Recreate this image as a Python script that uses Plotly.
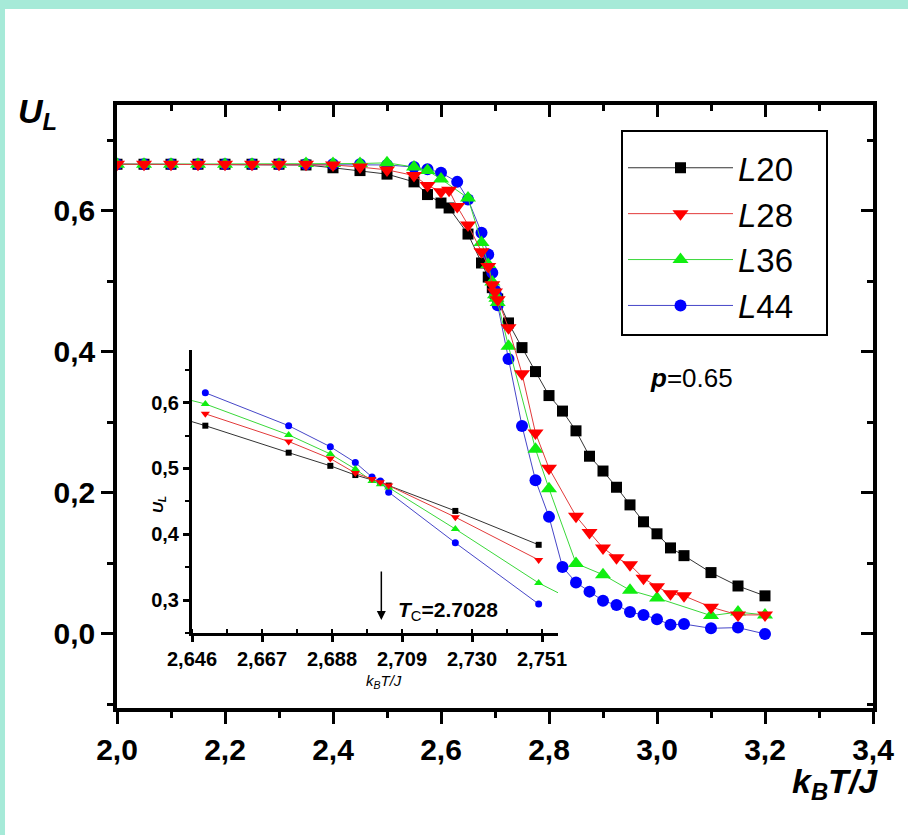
import plotly.graph_objects as go

# ---------------- main panel data (U_L vs k_B T/J) ----------------
T_L20 = [2.0, 2.05, 2.1, 2.15, 2.2, 2.25, 2.3, 2.35, 2.4, 2.45, 2.5,
         2.55, 2.575, 2.6, 2.615, 2.65, 2.675, 2.6875, 2.695, 2.70, 2.705, 2.725, 2.75, 2.775,
         2.8, 2.825, 2.85, 2.875, 2.9, 2.925, 2.95, 2.975, 3.0, 3.025, 3.05, 3.1, 3.15, 3.2]
U_L20 = [0.666, 0.666, 0.666, 0.666, 0.666, 0.666, 0.666, 0.665, 0.661, 0.657, 0.652,
         0.641, 0.623, 0.611, 0.604, 0.567, 0.526, 0.506, 0.491, 0.483, 0.475, 0.441, 0.406, 0.372,
         0.338, 0.316, 0.288, 0.252, 0.231, 0.208, 0.183, 0.159, 0.142, 0.122, 0.111, 0.087, 0.068, 0.054]

T_L28 = [2.0, 2.05, 2.1, 2.15, 2.2, 2.25, 2.3, 2.35, 2.4, 2.45, 2.5,
         2.55, 2.575, 2.6, 2.615, 2.63, 2.65, 2.675, 2.6875, 2.695, 2.70, 2.705, 2.725, 2.75, 2.775,
         2.8, 2.85, 2.875, 2.9, 2.925, 2.95, 2.975, 3.0, 3.025, 3.05, 3.1, 3.15, 3.2]
U_L28 = [0.666, 0.666, 0.666, 0.666, 0.666, 0.666, 0.666, 0.666, 0.665, 0.662, 0.658,
         0.650, 0.636, 0.627, 0.629, 0.606, 0.580, 0.542, 0.521, 0.495, 0.485, 0.474, 0.434, 0.369, 0.285,
         0.235, 0.167, 0.144, 0.122, 0.108, 0.098, 0.079, 0.067, 0.057, 0.054, 0.038, 0.027, 0.027]

T_L36 = [2.0, 2.05, 2.1, 2.15, 2.2, 2.25, 2.3, 2.35, 2.4, 2.45, 2.5,
         2.55, 2.575, 2.6, 2.65, 2.675, 2.6875, 2.695, 2.70, 2.7025, 2.705, 2.725, 2.775,
         2.8, 2.85, 2.9, 2.95, 3.0, 3.1, 3.15, 3.2]
U_L36 = [0.666, 0.666, 0.666, 0.666, 0.666, 0.666, 0.666, 0.667, 0.667, 0.667, 0.668,
         0.662, 0.657, 0.645, 0.618, 0.555, 0.524, 0.499, 0.481, 0.476, 0.470, 0.408, 0.262,
         0.206, 0.100, 0.084, 0.062, 0.051, 0.026, 0.031, 0.027]

T_L44 = [2.0, 2.05, 2.1, 2.15, 2.2, 2.25, 2.3, 2.35, 2.4, 2.45, 2.5,
         2.55, 2.575, 2.6, 2.63, 2.65, 2.675, 2.6875, 2.695, 2.70, 2.7025, 2.705, 2.725, 2.75, 2.775,
         2.8, 2.825, 2.85, 2.875, 2.9, 2.925, 2.95, 2.975, 3.0, 3.025, 3.05, 3.1, 3.15, 3.2]
U_L44 = [0.666, 0.666, 0.666, 0.666, 0.666, 0.666, 0.666, 0.666, 0.666, 0.666, 0.665,
         0.662, 0.659, 0.654, 0.641, 0.616, 0.569, 0.538, 0.512, 0.487, 0.480, 0.466, 0.390, 0.295, 0.218,
         0.166, 0.095, 0.073, 0.060, 0.047, 0.041, 0.031, 0.027, 0.021, 0.013, 0.014, 0.008, 0.009, 0.000]

# ---------------- inset data (zoom near the crossing) ----------------
IN_T20 = [2.625, 2.65, 2.675, 2.6875, 2.695, 2.70, 2.7025, 2.705, 2.725, 2.75]
IN_U20 = [0.603, 0.565, 0.524, 0.504, 0.490, 0.483, 0.479, 0.474, 0.4355, 0.384]
IN_T28 = [2.65, 2.675, 2.6875, 2.695, 2.70, 2.7025, 2.705, 2.725, 2.75]
IN_U28 = [0.583, 0.541, 0.515, 0.493, 0.484, 0.479, 0.474, 0.426, 0.361]
IN_T36 = [2.625, 2.65, 2.675, 2.6875, 2.695, 2.70, 2.7025, 2.705, 2.725, 2.75, 2.775]
IN_U36 = [0.630, 0.598, 0.551, 0.522, 0.499, 0.481, 0.476, 0.471, 0.408, 0.326, 0.262]
IN_T44 = [2.65, 2.675, 2.6875, 2.695, 2.70, 2.7025, 2.705, 2.725, 2.75]
IN_U44 = [0.615, 0.565, 0.533, 0.509, 0.487, 0.481, 0.464, 0.387, 0.294]

SERIES_NAMES = ["L20", "L28", "L36", "L44"]

MAIN_XTICKS = [2.0, 2.2, 2.4, 2.6, 2.8, 3.0, 3.2, 3.4]
MAIN_YTICKS = [0.0, 0.2, 0.4, 0.6]
INSET_XTICKS = [2.646, 2.667, 2.688, 2.709, 2.730, 2.751]
INSET_YTICKS = [0.3, 0.4, 0.5, 0.6]
TC_VALUE = 2.7028
P_VALUE = 0.65

# ---------------- styling ----------------
FONT = "Liberation Sans, Arial, sans-serif"
W, H = 908, 835
L, R, T, B = 117, 35, 105, 127
PW, PH = W - L - R, H - T - B
X_RANGE = [2.0, 3.4]
Y_RANGE = [-0.105, 0.75]


def px_x(p):
    return (p - L) / PW


def px_y(p):
    return (H - B - p) / PH


styles = {
    "L20": dict(sym="square", col="#000000", line="#333333", ms=11, ims=6),
    "L28": dict(sym="triangle-down", col="#ff0000", line="#e23a3a", ms=14, ims=8),
    "L36": dict(sym="triangle-up", col="#11ee11", line="#3ad83a", ms=14, ims=8),
    "L44": dict(sym="circle", col="#0000ff", line="#4646c8", ms=12, ims=7),
}
main_data = {"L20": (T_L20, U_L20), "L28": (T_L28, U_L28),
             "L36": (T_L36, U_L36), "L44": (T_L44, U_L44)}
inset_data = {"L20": (IN_T20, IN_U20), "L28": (IN_T28, IN_U28),
              "L36": (IN_T36, IN_U36), "L44": (IN_T44, IN_U44)}

fig = go.Figure()

draw_order = ["L20", "L44", "L36", "L28"]
rank = {n: i + 1 for i, n in enumerate(SERIES_NAMES)}
for name in draw_order:
    st = styles[name]
    xs, ys = main_data[name]
    fig.add_trace(go.Scatter(
        x=xs, y=ys, mode="lines+markers", name="<i>L</i>" + name[1:] + "&nbsp;&nbsp;&nbsp;",
        legendrank=rank[name],
        line=dict(color=st["line"], width=1),
        marker=dict(symbol=st["sym"], color=st["col"], size=st["ms"], line=dict(width=0)),
        xaxis="x", yaxis="y",
    ))

for name in draw_order:
    st = styles[name]
    xs, ys = inset_data[name]
    fig.add_trace(go.Scatter(
        x=xs, y=ys, mode="lines+markers", showlegend=False,
        line=dict(color=st["line"], width=1),
        marker=dict(symbol=st["sym"], color=st["col"], size=st["ims"], line=dict(width=0)),
        xaxis="x2", yaxis="y2",
    ))

# empty traces so the mirrored frame axes (top / right, inward ticks) get drawn
fig.add_trace(go.Scatter(x=[], y=[], xaxis="x3", yaxis="y", showlegend=False, hoverinfo="skip"))
fig.add_trace(go.Scatter(x=[], y=[], xaxis="x", yaxis="y3", showlegend=False, hoverinfo="skip"))

tickfont_main = dict(family=FONT, size=30, color="black", weight="bold")
tickfont_inset = dict(family=FONT, size=20, color="black", weight="bold")

fig.update_layout(
    width=W, height=H,
    margin=dict(l=L, r=R, t=T, b=B),
    paper_bgcolor="white",
    plot_bgcolor="rgba(0,0,0,0)",
    separators=",.",
    showlegend=True,
    xaxis=dict(
        domain=[0, 1], range=X_RANGE, anchor="y",
        tickvals=MAIN_XTICKS, tickformat=".1f",
        ticks="outside", ticklen=12, tickwidth=3, tickcolor="black",
        minor=dict(dtick=0.1, tick0=2.0, ticks="outside", ticklen=6, tickwidth=3, tickcolor="black"),
        showline=True, linewidth=3.5, linecolor="black",
        showgrid=False, zeroline=False,
        tickfont=tickfont_main,
    ),
    yaxis=dict(
        domain=[0, 1], range=Y_RANGE, anchor="x",
        tickvals=MAIN_YTICKS, tickformat=".1f",
        ticks="outside", ticklen=12, tickwidth=3, tickcolor="black",
        minor=dict(dtick=0.1, tick0=0.0, ticks="outside", ticklen=6, tickwidth=3, tickcolor="black"),
        showline=True, linewidth=3.5, linecolor="black",
        showgrid=False, zeroline=False,
        tickfont=tickfont_main,
    ),
    xaxis3=dict(
        overlaying="x", side="top", anchor="y",
        range=X_RANGE, tickvals=MAIN_XTICKS, showticklabels=False,
        ticks="inside", ticklen=12, tickwidth=3, tickcolor="black",
        minor=dict(dtick=0.1, tick0=2.0, ticks="inside", ticklen=6, tickwidth=3, tickcolor="black"),
        showline=True, linewidth=3.5, linecolor="black",
        showgrid=False, zeroline=False,
    ),
    yaxis3=dict(
        overlaying="y", side="right", anchor="x",
        range=Y_RANGE, tickvals=MAIN_YTICKS, showticklabels=False,
        ticks="inside", ticklen=12, tickwidth=3, tickcolor="black",
        minor=dict(dtick=0.1, tick0=0.0, ticks="inside", ticklen=6, tickwidth=3, tickcolor="black"),
        showline=True, linewidth=3.5, linecolor="black",
        showgrid=False, zeroline=False,
    ),
    xaxis2=dict(
        domain=[px_x(192), px_x(558)], range=[2.646, 2.7558], anchor="y2",
        tickvals=INSET_XTICKS, tickformat=".3f",
        ticks="outside", ticklen=6, tickwidth=2.5, tickcolor="black",
        minor=dict(dtick=0.0105, tick0=2.646, ticks="inside", ticklen=4, tickwidth=2, tickcolor="black"),
        showline=True, linewidth=3, linecolor="black",
        showgrid=False, zeroline=False,
        tickfont=tickfont_inset,
    ),
    yaxis2=dict(
        domain=[px_y(633), px_y(350)], range=[0.25, 0.68], anchor="x2",
        tickvals=INSET_YTICKS, tickformat=".1f",
        ticks="outside", ticklen=6, tickwidth=2.5, tickcolor="black",
        minor=dict(dtick=0.05, tick0=0.3, ticks="outside", ticklen=4, tickwidth=2, tickcolor="black"),
        showline=True, linewidth=3, linecolor="black",
        showgrid=False, zeroline=False,
        tickfont=tickfont_inset,
    ),
    legend=dict(
        x=px_x(621), y=px_y(130), xanchor="left", yanchor="top",
        bordercolor="black", borderwidth=2, bgcolor="white",
        font=dict(family=FONT, size=33, color="black"),
        itemwidth=105, tracegroupgap=0,
        title=dict(text=" ", font=dict(size=6)),
    ),
)

# cyan page border strips
fig.add_shape(type="rect", xref="paper", yref="paper", layer="below",
              x0=px_x(0), x1=px_x(W), y0=px_y(9), y1=px_y(0),
              fillcolor="#a6ead8", line=dict(width=0))
fig.add_shape(type="rect", xref="paper", yref="paper", layer="below",
              x0=px_x(0), x1=px_x(5), y0=px_y(H), y1=px_y(0),
              fillcolor="#a6ead8", line=dict(width=0))

ann = []
# main axis titles
ann.append(dict(xref="paper", yref="paper", x=px_x(16), y=px_y(90), xanchor="left", yanchor="top",
                text="<b><i>U</i></b><sub><b><i>L</i></b></sub>", showarrow=False,
                font=dict(family=FONT, size=34, color="black")))
ann.append(dict(xref="paper", yref="paper", x=px_x(880), y=px_y(760), xanchor="right", yanchor="top",
                text="<b><i>k</i></b><sub><b><i>B</i></b></sub><b><i>T/J</i></b>", showarrow=False,
                font=dict(family=FONT, size=34, color="black")))
# p label
ann.append(dict(xref="paper", yref="paper", x=px_x(648), y=px_y(378), xanchor="left", yanchor="middle",
                text="<b><i>p</i></b>=%.2f" % P_VALUE, showarrow=False,
                font=dict(family=FONT, size=26, color="black")))
# inset axis titles
ann.append(dict(xref="paper", yref="paper", x=px_x(158), y=px_y(505), xanchor="center", yanchor="middle",
                text="<b><i>U</i></b><sub><b><i>L</i></b></sub>", textangle=-90, showarrow=False,
                font=dict(family=FONT, size=15, color="black")))
ann.append(dict(xref="paper", yref="paper", x=px_x(384), y=px_y(681), xanchor="center", yanchor="middle",
                text="<i>k</i><sub><i>B</i></sub><i>T/J</i>", showarrow=False,
                font=dict(family=FONT, size=15, color="black")))
# Tc arrow and label
ann.append(dict(xref="x2", yref="y2", x=TC_VALUE, y=0.2696, axref="x2", ayref="y2",
                ax=TC_VALUE, ay=0.3457, text="", showarrow=True, arrowhead=2, arrowsize=1.2,
                arrowwidth=1.5, arrowcolor="black"))
ann.append(dict(xref="x2", yref="y2", x=2.7073, y=0.284, xanchor="left", yanchor="middle",
                text="<b><i>T</i></b><sub>C</sub><b>=%.4f</b>" % TC_VALUE, showarrow=False,
                font=dict(family=FONT, size=21, color="black")))
fig.update_layout(annotations=ann)

fig.write_html("out.html")
